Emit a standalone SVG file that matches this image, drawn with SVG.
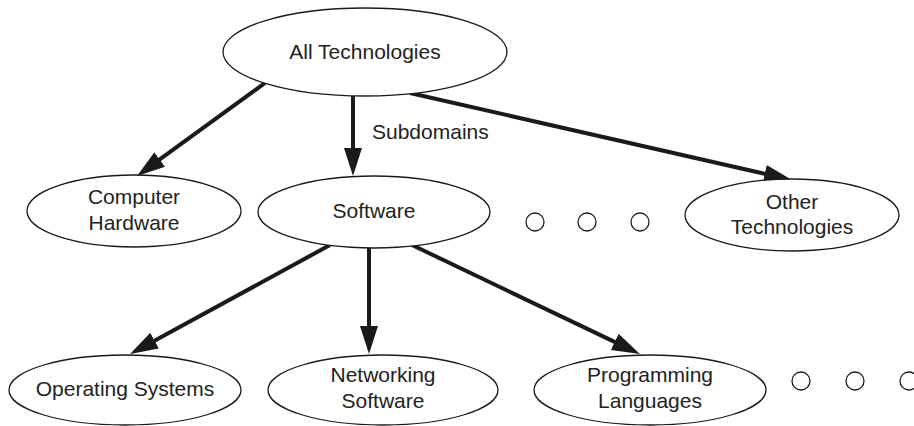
<svg xmlns="http://www.w3.org/2000/svg" width="914" height="426" viewBox="0 0 914 426">
  <style>
    .node ellipse { fill: #ffffff; stroke: #1a1a1a; stroke-width: 1.3; }
    .dot { fill: #ffffff; stroke: #1a1a1a; stroke-width: 1.3; }
    text { font-family: "Liberation Sans", Arial, sans-serif; font-size: 21px; fill: #222222; text-anchor: middle; }
    .label { text-anchor: start; }
    .edge { stroke: #1a1a1a; stroke-width: 4; fill: none; marker-end: url(#arrow); }
  </style>
  <defs>
    <marker id="arrow" markerUnits="userSpaceOnUse" markerWidth="30" markerHeight="20" refX="8" refY="9" orient="auto">
      <path d="M0,0 L28,9 L0,18 Z" fill="#1a1a1a"/>
    </marker>
  </defs>

  <!-- connectors -->
  <g id="connectors">
    <line class="edge" x1="265" y1="83" x2="153.2" y2="164.2"/>
    <line class="edge" x1="353" y1="96" x2="353" y2="156"/>
    <line class="edge" x1="410" y1="93" x2="772.5" y2="175.6"/>
    <line class="edge" x1="330" y1="245" x2="147.6" y2="344.5"/>
    <line class="edge" x1="369" y1="247" x2="369" y2="334"/>
    <line class="edge" x1="412" y1="245" x2="621.9" y2="345.4"/>
    <text class="label" x="372" y="139">Subdomains</text>
  </g>

  <!-- nodes -->
  <g id="all-technologies" class="node">
    <ellipse cx="365" cy="52" rx="142" ry="44"/>
    <text x="365" y="59">All Technologies</text>
  </g>
  <g id="computer-hardware" class="node">
    <ellipse cx="134" cy="211" rx="107" ry="36"/>
    <text x="134" y="204">Computer</text>
    <text x="134" y="230">Hardware</text>
  </g>
  <g id="software" class="node">
    <ellipse cx="374" cy="212" rx="116" ry="36"/>
    <text x="374" y="218">Software</text>
  </g>
  <g id="more-technologies">
    <circle class="dot" cx="535" cy="222" r="9"/>
    <circle class="dot" cx="587" cy="222" r="9"/>
    <circle class="dot" cx="640" cy="222" r="9"/>
  </g>
  <g id="other-technologies" class="node">
    <ellipse cx="792" cy="215" rx="107" ry="36"/>
    <text x="792" y="209">Other</text>
    <text x="792" y="234">Technologies</text>
  </g>
  <g id="operating-systems" class="node">
    <ellipse cx="125" cy="390" rx="116" ry="35"/>
    <text x="125" y="396">Operating Systems</text>
  </g>
  <g id="networking-software" class="node">
    <ellipse cx="383" cy="390" rx="115" ry="35"/>
    <text x="383" y="382">Networking</text>
    <text x="383" y="408">Software</text>
  </g>
  <g id="programming-languages" class="node">
    <ellipse cx="650" cy="390" rx="116" ry="35"/>
    <text x="650" y="382">Programming</text>
    <text x="650" y="408">Languages</text>
  </g>
  <g id="more-software">
    <circle class="dot" cx="801" cy="381" r="9"/>
    <circle class="dot" cx="855" cy="381" r="9"/>
    <circle class="dot" cx="909" cy="381" r="9"/>
  </g>
</svg>
